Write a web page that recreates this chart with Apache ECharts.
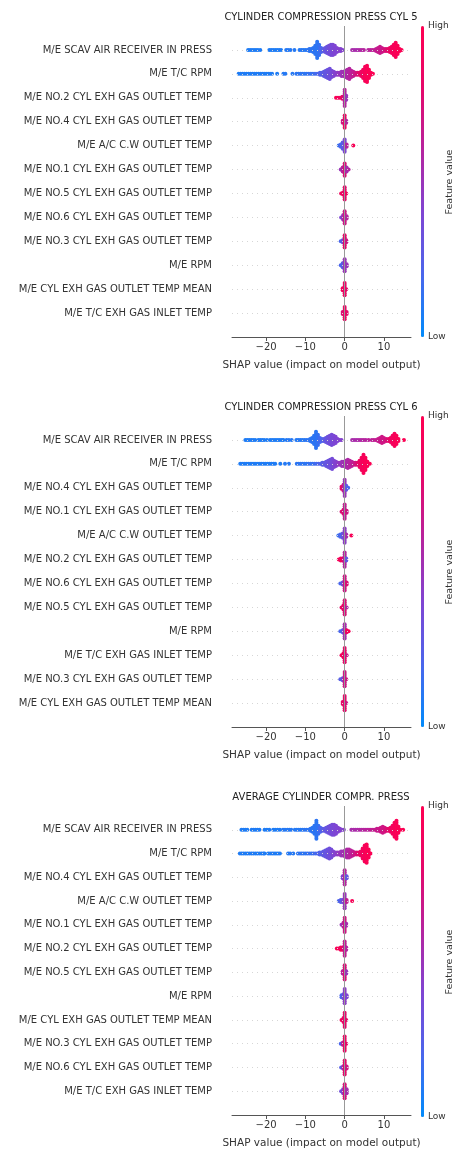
<!DOCTYPE html>
<html>
<head>
<meta charset="utf-8">
<script src="https://cdn.jsdelivr.net/npm/echarts@6/dist/echarts.min.js"></script>
<style>
  html, body { margin: 0; padding: 0; background: #fff; }
  #chart { width: 466px; height: 1150px; }
</style>
</head>
<body>
<div id="chart"></div>
<script>
// panel titles
const titles = [
  'CYLINDER COMPRESSION PRESS CYL 5',
  'CYLINDER COMPRESSION PRESS CYL 6',
  'AVERAGE CYLINDER COMPR. PRESS'
];

// features, top to bottom
const featuresCyl5 = [
  'M/E SCAV AIR RECEIVER IN PRESS', 'M/E T/C RPM',
  'M/E NO.2 CYL EXH GAS OUTLET TEMP', 'M/E NO.4 CYL EXH GAS OUTLET TEMP',
  'M/E A/C C.W OUTLET TEMP', 'M/E NO.1 CYL EXH GAS OUTLET TEMP',
  'M/E NO.5 CYL EXH GAS OUTLET TEMP', 'M/E NO.6 CYL EXH GAS OUTLET TEMP',
  'M/E NO.3 CYL EXH GAS OUTLET TEMP', 'M/E RPM',
  'M/E CYL EXH GAS OUTLET TEMP MEAN', 'M/E T/C EXH GAS INLET TEMP'
];
const featuresCyl6 = [
  'M/E SCAV AIR RECEIVER IN PRESS', 'M/E T/C RPM',
  'M/E NO.4 CYL EXH GAS OUTLET TEMP', 'M/E NO.1 CYL EXH GAS OUTLET TEMP',
  'M/E A/C C.W OUTLET TEMP', 'M/E NO.2 CYL EXH GAS OUTLET TEMP',
  'M/E NO.6 CYL EXH GAS OUTLET TEMP', 'M/E NO.5 CYL EXH GAS OUTLET TEMP',
  'M/E RPM', 'M/E T/C EXH GAS INLET TEMP',
  'M/E NO.3 CYL EXH GAS OUTLET TEMP', 'M/E CYL EXH GAS OUTLET TEMP MEAN'
];
const featuresAvg = [
  'M/E SCAV AIR RECEIVER IN PRESS', 'M/E T/C RPM',
  'M/E NO.4 CYL EXH GAS OUTLET TEMP', 'M/E A/C C.W OUTLET TEMP',
  'M/E NO.1 CYL EXH GAS OUTLET TEMP', 'M/E NO.2 CYL EXH GAS OUTLET TEMP',
  'M/E NO.5 CYL EXH GAS OUTLET TEMP', 'M/E RPM',
  'M/E CYL EXH GAS OUTLET TEMP MEAN', 'M/E NO.3 CYL EXH GAS OUTLET TEMP',
  'M/E NO.6 CYL EXH GAS OUTLET TEMP', 'M/E T/C EXH GAS INLET TEMP'
];

// per feature row: [shap value, feature value (0 low .. 1 high), number of stacked dots]
const shapCyl5 = [
  [[-24.6,.08,1],[-24.1,.08,1],[-23.6,.08,1],[-23.1,.08,1],[-22.6,.08,1],[-22.1,.08,1],[-21.5,.08,1],
   [-19.2,.08,1],[-18.7,.08,1],[-18.2,.08,1],[-17.7,.08,1],[-17.2,.08,1],[-16.7,.08,1],[-16.2,.08,1],
   [-14.9,.1,1],[-14.4,.1,1],[-13.8,.1,1],[-12.8,.1,1],
   [-11.5,.1,1],[-11,.1,1],[-10.5,.1,1],[-10,.1,1],[-9.5,.12,1],[-9,.12,2],[-8.5,.12,2],[-8,.12,3],
   [-7.5,.12,5],[-7,.12,9],[-6.5,.14,6],[-6,.2,3],[-5.5,.25,2],[-5,.3,3],[-4.5,.32,4],[-4,.35,5],
   [-3.5,.37,6],[-3,.38,6],[-2.5,.4,5],[-2,.4,3],[-1.5,.42,2],[-1,.42,2],[-0.5,.42,1],
   [1.9,.55,1],[2.4,.55,1],[2.9,.55,1],[3.4,.55,1],[3.9,.58,1],[4.4,.58,1],[4.9,.6,1],
   [6,.6,1],[6.5,.62,1],[7,.62,1],[7.5,.65,1],[8,.65,2],[8.5,.67,3],[9,.68,4],[9.5,.68,3],
   [10,.72,2],[10.5,.75,2],[11,.8,2],[11.5,.85,3],[12,.9,4],[12.5,.93,6],[13,.95,8],[13.5,.97,5],
   [14,.98,2],[14.5,.98,1]],
  [[-27,.08,1],[-26.5,.08,1],[-26,.08,1],[-25.5,.08,1],[-25,.08,1],[-24.5,.08,1],[-24,.08,1],
   [-23.5,.08,1],[-23,.08,1],[-22.5,.08,1],[-22,.08,1],[-21.5,.08,1],[-21,.08,1],[-20.5,.08,1],
   [-20,.08,1],[-19.5,.08,1],[-19,.08,1],[-18.5,.08,1],[-17.2,.08,1],[-15.6,.1,1],[-15.1,.1,1],
   [-13.3,.1,1],[-12.3,.12,1],[-11.8,.12,1],[-11.3,.12,1],[-10.8,.12,1],[-10.3,.12,1],[-9.8,.12,1],
   [-9.3,.14,1],[-8.8,.14,1],[-8.3,.14,1],[-7.8,.16,1],[-7.3,.18,1],[-6.8,.2,1],[-6.3,.22,2],
   [-5.8,.25,2],[-5.3,.28,3],[-4.8,.3,4],[-4.3,.32,5],[-3.8,.34,6],[-3.3,.36,4],[-2.8,.4,3],
   [-2.3,.42,2],[-1.8,.45,2],[-1.3,.48,2],[-0.8,.5,3],[-0.3,.52,3],[0.2,.55,4],[0.7,.57,5],
   [1.2,.6,6],[1.7,.62,4],[2.2,.65,3],[2.7,.7,2],[3.2,.75,2],[3.7,.8,2],[4.2,.85,3],[4.7,.9,5],
   [5.2,.94,8],[5.7,.96,9],[6.2,.97,5],[6.7,.98,2],[7.2,.98,1]],
  [[-2.2,.95,1],[-1.7,.95,1],[-1.2,.9,1],[-0.6,.8,2],[0,.6,9],[0.4,.5,3]],
  [[-0.5,.7,2],[0,.85,7],[0.4,.6,2]],
  [[-1.5,.15,1],[-1,.2,2],[-0.5,.25,4],[0,.4,7],[0.5,.6,2],[2.2,.95,1]],
  [[-1,.5,1],[-0.5,.6,3],[0,.75,7],[0.5,.55,3],[1,.6,1]],
  [[-0.9,.9,1],[-0.4,.85,2],[0,.8,7],[0.4,.9,1]],
  [[-0.9,.4,1],[-0.4,.5,3],[0,.7,7],[0.5,.6,2]],
  [[-1,.2,1],[-0.5,.3,2],[0,.8,7],[0.4,.7,2]],
  [[-1,.2,1],[-0.5,.25,3],[0,.5,7],[0.5,.5,2]],
  [[-0.5,.9,2],[0,.85,7],[0.4,.8,1]],
  [[-0.5,.75,2],[0,.85,7],[0.5,.8,2]]
];
const shapCyl6 = [
  [[-25.3,.08,1],[-24.8,.08,1],[-24.3,.08,1],[-23.8,.08,1],[-23.3,.08,1],[-22.8,.08,1],
   [-22,.08,1],[-21.5,.08,1],[-21,.08,1],[-20.5,.08,1],[-19.8,.08,1],
   [-19,.08,1],[-18.5,.08,1],[-18,.08,1],[-17.5,.08,1],[-17,.08,1],[-16.5,.08,1],[-16,.08,1],[-15.6,.08,1],
   [-14.8,.1,1],[-14.2,.1,1],[-13.5,.1,1],[-12.3,.1,1],
   [-11.8,.1,1],[-11.3,.1,1],[-10.8,.1,1],[-10.3,.1,1],[-9.8,.12,1],[-9.3,.12,1],[-8.8,.12,2],
   [-8.3,.12,3],[-7.8,.12,5],[-7.3,.12,9],[-6.8,.14,6],[-6.3,.18,3],[-5.8,.22,2],[-5.3,.26,2],
   [-4.8,.3,3],[-4.3,.33,4],[-3.8,.35,5],[-3.3,.37,6],[-2.8,.38,5],[-2.3,.4,4],[-1.8,.4,2],
   [-1.3,.42,1],[-0.8,.42,1],
   [1.9,.55,1],[2.4,.55,1],[2.9,.56,1],[3.4,.56,1],[3.9,.58,1],[4.4,.58,1],[4.9,.6,1],[5.4,.6,1],[6.1,.62,1],
   [6.9,.62,1],[7.4,.64,1],[7.9,.65,1],[8.5,.67,2],[9,.68,3],[9.5,.7,4],[10,.7,3],[10.6,.74,2],
   [11.2,.8,2],[11.7,.86,3],[12.2,.9,5],[12.7,.94,7],[13.2,.96,5],[13.7,.97,2],[15.1,.98,1]],
  [[-26.6,.08,1],[-26.1,.08,1],[-25.6,.08,1],[-25.1,.08,1],[-24.6,.08,1],[-24.1,.08,1],[-23.6,.08,1],
   [-23.1,.08,1],[-22.6,.08,1],[-22.1,.08,1],[-21.6,.08,1],[-21.1,.08,1],[-20.6,.08,1],[-20.1,.08,1],
   [-19.6,.08,1],[-19.1,.08,1],[-18.6,.08,1],[-18.1,.08,1],[-17.7,.08,1],[-16.4,.08,1],
   [-15.2,.1,1],[-14.2,.1,1],[-12.2,.12,1],[-11.7,.12,1],[-11.2,.12,1],[-10.7,.12,1],[-10.2,.12,1],
   [-9.7,.12,1],[-9.2,.14,1],[-8.7,.14,1],[-8.2,.14,1],[-7.7,.16,1],[-7.2,.18,1],[-6.7,.2,1],
   [-6.2,.22,1],[-5.7,.25,2],[-5.2,.28,2],[-4.7,.3,3],[-4.2,.32,4],[-3.7,.34,5],[-3.2,.36,6],
   [-2.7,.4,4],[-2.2,.42,3],[-1.7,.45,2],[-1.2,.48,2],[-0.7,.5,3],[-0.2,.52,3],[0.3,.55,4],
   [0.8,.57,5],[1.3,.6,4],[1.8,.62,3],[2.3,.66,2],[2.8,.72,2],[3.3,.78,2],[3.8,.85,4],
   [4.3,.9,7],[4.8,.94,10],[5.3,.96,7],[5.8,.97,3],[6.4,.98,1]],
  [[-0.8,.8,2],[-0.3,.7,4],[0,.5,9],[0.4,.3,3],[0.9,.2,1]],
  [[-0.8,.75,1],[-0.3,.8,3],[0,.65,8],[0.5,.7,2]],
  [[-1.6,.15,1],[-1.1,.2,2],[-0.5,.3,3],[0,.45,8],[0.4,.55,2],[1.7,.95,1]],
  [[-1.5,.95,1],[-1,.9,2],[-0.5,.8,2],[0,.6,8],[0.4,.3,2]],
  [[-1.1,.2,1],[-0.5,.35,2],[0,.7,8],[0.5,.75,2]],
  [[-0.8,.8,1],[-0.3,.85,3],[0,.75,8],[0.5,.6,1]],
  [[-1.1,.2,1],[-0.5,.25,2],[0,.55,8],[0.5,.85,2],[1,.95,1]],
  [[-0.8,.9,1],[-0.3,.9,3],[0,.8,8],[0.5,.7,1]],
  [[-1.1,.25,1],[-0.5,.35,2],[0,.7,8],[0.4,.7,1]],
  [[-0.5,.8,2],[0,.8,8],[0.4,.7,1]]
];
const shapAvg = [
  [[-26.3,.08,1],[-25.8,.08,1],[-25.3,.08,1],[-24.8,.08,1],[-23.7,.08,1],[-23.2,.08,1],[-22.7,.08,1],
   [-22.2,.08,1],[-21.7,.08,1],[-20.4,.08,1],[-19.8,.08,1],[-19.2,.08,1],[-18.2,.08,1],[-17.7,.08,1],
   [-17.1,.08,1],[-16.5,.08,1],[-15.7,.1,1],[-15.2,.1,1],[-14.6,.1,1],[-14.1,.1,1],[-13.6,.1,1],
   [-12.7,.1,1],[-12.2,.1,1],[-11.7,.1,1],[-11.2,.1,1],[-10.7,.1,1],[-10.2,.12,1],[-9.7,.12,1],
   [-9.2,.12,1],[-8.7,.12,2],[-8.2,.12,3],[-7.7,.12,5],[-7.2,.12,10],[-6.7,.14,5],[-6.2,.2,3],
   [-5.7,.25,2],[-5.2,.28,2],[-4.7,.3,3],[-4.2,.33,4],[-3.7,.35,5],[-3.2,.37,6],[-2.7,.38,6],
   [-2.2,.4,5],[-1.7,.4,3],[-1.2,.42,2],[-0.7,.42,1],[-0.2,.42,1],
   [1.7,.55,1],[2.2,.55,1],[2.7,.56,1],[3.2,.56,1],[3.7,.58,1],[4.2,.58,1],[4.7,.6,1],[5.2,.6,1],
   [5.7,.62,1],[6.2,.62,1],[6.7,.64,1],[7.2,.65,1],[7.7,.66,1],[8.2,.67,2],[8.7,.68,2],[9.2,.7,3],
   [9.7,.7,4],[10.2,.72,3],[10.7,.76,2],[11.2,.8,2],[11.7,.86,3],[12.2,.9,5],[12.7,.94,8],
   [13.2,.96,10],[13.7,.97,4],[14.2,.98,1],[14.9,.98,1]],
  [[-26.7,.08,1],[-26.2,.08,1],[-25.7,.08,1],[-25.2,.08,1],[-24.7,.08,1],[-24.2,.08,1],[-23.7,.08,1],
   [-23.2,.08,1],[-22.7,.08,1],[-22.2,.08,1],[-21.7,.08,1],[-21.2,.08,1],[-20.7,.08,1],[-20.4,.08,1],
   [-19.5,.08,1],[-19,.08,1],[-18.5,.08,1],[-18,.08,1],[-17.5,.08,1],[-17,.08,1],[-16.5,.08,1],
   [-14.4,.1,1],[-13.9,.1,1],[-13.1,.1,1],[-11.9,.12,1],[-11.4,.12,1],[-10.9,.12,1],[-10.4,.12,1],
   [-9.9,.12,1],[-9.4,.14,1],[-8.9,.14,1],[-8.4,.14,1],[-7.9,.16,1],[-7.4,.18,1],[-6.9,.2,1],
   [-6.4,.22,2],[-5.9,.25,2],[-5.4,.28,3],[-4.9,.3,4],[-4.4,.32,5],[-3.9,.34,6],[-3.4,.36,5],
   [-2.9,.4,3],[-2.4,.42,2],[-1.9,.45,2],[-1.4,.48,2],[-0.9,.5,3],[-0.4,.52,3],[0.1,.55,4],
   [0.6,.57,5],[1.1,.6,5],[1.6,.62,4],[2.1,.65,3],[2.6,.7,2],[3.1,.75,2],[3.6,.8,2],[4.1,.85,3],
   [4.6,.9,6],[5.1,.94,9],[5.6,.96,10],[6.1,.97,5],[6.6,.98,1]],
  [[-0.5,.4,2],[0,.6,8],[0.5,.3,2]],
  [[-1.5,.2,1],[-1,.25,2],[-0.5,.35,2],[0,.5,8],[0.5,.65,2],[1.9,.95,1]],
  [[-0.8,.5,1],[-0.3,.6,3],[0,.7,8],[0.4,.55,2]],
  [[-2,.95,1],[-1.5,.95,1],[-1,.9,2],[-0.5,.8,2],[0,.65,8],[0.4,.6,2]],
  [[-0.5,.6,2],[0,.75,8],[0.4,.5,2]],
  [[-0.8,.2,2],[-0.3,.3,3],[0,.45,8],[0.5,.4,2]],
  [[-0.8,.9,1],[-0.3,.85,3],[0,.8,8],[0.4,.8,1]],
  [[-1,.2,1],[-0.5,.6,2],[0,.85,8],[0.4,.8,1]],
  [[-0.9,.25,1],[-0.4,.5,2],[0,.8,8],[0.5,.7,2]],
  [[-0.9,.35,1],[-0.4,.4,3],[0,.75,8],[0.5,.55,3]]
];

const xTicks = [-20, -10, 0, 10];

const panels = [
  { title: titles[0], features: featuresCyl5, shap: shapCyl5 },
  { title: titles[1], features: featuresCyl6, shap: shapCyl6 },
  { title: titles[2], features: featuresAvg, shap: shapAvg }
];

const FONT = 'DejaVu Sans';
const TOPS = [26, 416, 806];
const PLOT_H = 311;
const GRID_LEFT = 232;
const GRID_W = 179;
const STEP = 0.085; // vertical spacing of stacked dots, in row units
const SHAP_COLORS = ['#008bfb', '#4a66ec', '#7f45d3', '#b5249f', '#e5086a', '#ff0051'];

// beeswarm layout: stack n dots around each row centre
function swarm(rows) {
  const pts = [];
  rows.forEach((row, i) => {
    const yc = rows.length - 1 - i;
    row.forEach(([x, c, n]) => {
      for (let k = 0; k < n; k++) pts.push([x, yc + (k - (n - 1) / 2) * STEP, c]);
    });
  });
  return pts;
}

const minus = v => (v < 0 ? '\u2212' + (-v) : String(v));

const chart = echarts.init(document.getElementById('chart'), null, { renderer: 'canvas' });

const grid = [], xAxis = [], yAxis = [], series = [], visualMap = [], graphic = [];
panels.forEach((p, i) => {
  const n = p.features.length;
  grid.push({ left: GRID_LEFT, width: GRID_W, top: TOPS[i], height: PLOT_H });
  xAxis.push({
    gridIndex: i, type: 'value', min: -28.7, max: 16.9,
    name: 'SHAP value (impact on model output)', nameLocation: 'middle', nameGap: 23,
    nameTextStyle: { fontFamily: FONT, fontSize: 10.5, color: '#333' },
    axisLine: { onZero: false, lineStyle: { color: '#555' } },
    axisTick: { customValues: xTicks, length: 4, lineStyle: { color: '#555' } },
    axisLabel: { customValues: xTicks, formatter: minus, fontFamily: FONT, fontSize: 10, color: '#333', margin: 5 },
    splitLine: { show: false }
  });
  yAxis.push({
    gridIndex: i, type: 'value', min: -1, max: n, interval: 1,
    axisLine: { show: false }, axisTick: { show: false }, splitLine: { show: false },
    axisLabel: {
      fontFamily: FONT, fontSize: 10, color: '#333', margin: 20,
      formatter: v => (v >= 0 && v < n ? p.features[n - 1 - v] : '')
    }
  });
  series.push({
    type: 'scatter', xAxisIndex: i, yAxisIndex: i, z: 3,
    symbol: 'circle', symbolSize: 4,
    itemStyle: { opacity: 1, borderWidth: 0, borderColor: 'transparent' },
    emphasis: { disabled: true },
    data: swarm(p.shap), silent: true
  });
  visualMap.push({
    type: 'continuous', seriesIndex: i, dimension: 2, min: 0, max: 1,
    calculable: false, hoverLink: false, left: 421, top: TOPS[i], padding: 0,
    itemWidth: 3, itemHeight: PLOT_H, inRange: { color: SHAP_COLORS }
  });
  graphic.push(
    { type: 'text', x: 321, y: TOPS[i] - 9, style: { text: p.title, font: '10px "DejaVu Sans"', fill: '#222', align: 'center', verticalAlign: 'middle' } },
    { type: 'text', x: 428, y: TOPS[i], style: { text: 'High', font: '9px "DejaVu Sans"', fill: '#333', align: 'left', verticalAlign: 'middle' } },
    { type: 'text', x: 428, y: TOPS[i] + PLOT_H, style: { text: 'Low', font: '9px "DejaVu Sans"', fill: '#333', align: 'left', verticalAlign: 'middle' } },
    { type: 'text', x: 450, y: TOPS[i] + 156, rotation: Math.PI / 2, style: { text: 'Feature value', font: '9.5px "DejaVu Sans"', fill: '#333', align: 'center', verticalAlign: 'middle' } }
  );
});

// row guides and zero line, drawn under the dots
panels.forEach((p, i) => {
  const rowLines = p.features.map((f, k) => ({ yAxis: k }));
  series.push({
    type: 'line', xAxisIndex: i, yAxisIndex: i, data: [], z: 1, silent: true,
    markLine: {
      silent: true, symbol: 'none', label: { show: false }, animation: false,
      data: [
        ...rowLines.map(d => ({ ...d, lineStyle: { color: '#d6d6d6', width: 1, type: [1, 4] } })),
        { xAxis: 0, lineStyle: { color: '#999', width: 1, type: 'solid' } }
      ]
    }
  });
});

chart.setOption({
  animation: false,
  backgroundColor: '#fff',
  grid, xAxis, yAxis, series, visualMap, graphic
});
</script>
</body>
</html>
